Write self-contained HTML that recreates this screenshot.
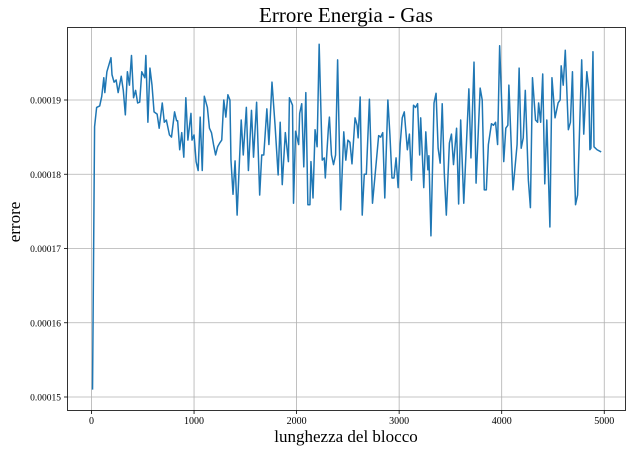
<!DOCTYPE html>
<html><head><meta charset="utf-8"><style>
body{margin:0;background:#fff;}
svg{display:block;font-family:"Liberation Serif",serif;}
</style></head><body>
<svg id="chart" width="631" height="451" viewBox="0 0 631 451" xmlns="http://www.w3.org/2000/svg">
<text x="346" y="22" font-size="21" text-anchor="middle">Errore Energia - Gas</text>
<text x="346" y="442" font-size="17" text-anchor="middle">lunghezza del blocco</text>
<text x="0" y="0" font-size="17" text-anchor="middle" transform="translate(20,222) rotate(-90)">errore</text>
<g id="grid"></g><g id="ticks"></g><g id="series"></g>
<rect x="67.5" y="27.5" width="558" height="383" fill="none" stroke="#000" stroke-width="0.8"/>
</svg>
<script>
const blockLen=[10,30,50,80,100,120,130,150,190,200,220,240,260,290,310,330,350,370,390,410,430,450,470,490,520,530,550,570,590,610,640,660,690,710,730,760,780,810,830,840,860,880,900,920,940,970,980,1000,1020,1040,1060,1080,1100,1130,1150,1170,1190,1210,1230,1250,1270,1290,1310,1330,1350,1360,1380,1400,1420,1460,1480,1510,1530,1560,1580,1610,1640,1660,1680,1710,1730,1760,1790,1820,1840,1860,1890,1920,1930,1960,1970,1990,2020,2030,2050,2070,2090,2110,2130,2140,2160,2180,2200,2220,2250,2270,2280,2310,2320,2340,2360,2380,2400,2430,2460,2480,2500,2520,2540,2570,2590,2600,2620,2640,2660,2680,2710,2740,2770,2800,2820,2840,2860,2890,2910,2930,2950,2970,2990,3010,3030,3050,3080,3100,3120,3140,3160,3180,3200,3210,3240,3260,3280,3290,3310,3340,3360,3380,3400,3420,3440,3460,3490,3510,3530,3560,3580,3600,3630,3680,3700,3730,3750,3790,3810,3830,3850,3870,3900,3920,3940,3960,3980,4020,4040,4060,4070,4110,4150,4170,4190,4210,4230,4260,4280,4300,4330,4350,4360,4380,4400,4420,4440,4470,4490,4520,4550,4570,4580,4600,4620,4650,4670,4690,4710,4720,4740,4780,4800,4830,4850,4860,4870,4890,4900,4930,4970];
const errore1e5=[15.1,18.64,18.9,18.92,19.05,19.3,19.1,19.38,19.57,19.34,19.24,19.27,19.1,19.32,19.13,18.8,19.38,19.2,19.6,19.03,19.13,18.96,18.97,19.38,19.3,19.6,18.7,19.43,19.2,18.84,18.81,18.62,18.96,18.7,18.73,18.53,18.5,18.84,18.72,18.72,18.33,18.56,18.23,19.03,18.46,18.82,18.46,18.53,18.17,18.05,18.77,18.05,19.05,18.9,18.62,18.56,18.4,18.26,18.37,18.42,18.46,19.0,18.77,19.07,19.0,18.19,17.73,18.18,17.45,18.73,18.26,18.9,18.05,18.86,18.23,18.97,17.72,18.26,18.26,18.88,18.4,19.24,18.66,17.99,18.7,17.86,18.56,18.17,19.03,18.93,17.61,18.58,18.4,18.82,18.95,18.1,19.1,17.59,17.59,18.17,17.68,18.6,18.37,19.75,18.19,18.22,17.95,18.62,18.77,18.26,18.13,18.26,19.54,17.52,18.57,18.19,18.46,18.43,18.14,18.76,18.66,18.49,19.04,17.45,18.0,18.0,19.01,17.61,18.06,18.52,18.5,18.56,17.68,19.0,18.53,17.95,17.95,18.22,17.82,18.4,18.76,18.84,18.33,18.54,17.92,18.93,18.9,18.95,18.26,18.76,17.82,18.57,18.06,18.25,17.17,18.96,19.09,18.35,18.15,18.95,18.02,17.45,18.42,18.54,18.13,18.62,17.6,18.73,17.61,19.15,18.22,19.51,17.88,19.16,19.0,17.79,17.79,18.4,18.68,18.66,18.7,18.4,19.73,18.17,18.62,18.66,19.2,17.79,18.4,19.43,18.35,18.49,19.13,17.92,17.55,19.3,18.73,18.7,18.96,18.7,19.35,17.87,18.73,17.29,19.3,18.76,18.96,19.0,19.46,19.2,19.67,18.6,18.7,19.38,18.03,17.59,17.72,19.54,18.54,19.38,19.13,18.33,18.35,19.65,18.37,18.33,18.3];
const xTicks=[0,1000,2000,3000,4000,5000];
const yTicks=[15,16,17,18,19];
const yTickLabels=["0.00015","0.00016","0.00017","0.00018","0.00019"];

const NS="http://www.w3.org/2000/svg";
const xS=v=>91.5+v*0.10255;
const yS=v=>397-(v-15)*74.25;
const grid=document.getElementById('grid'),ticks=document.getElementById('ticks'),series=document.getElementById('series');
function mk(tag,attrs,parent){const e=document.createElementNS(NS,tag);for(const k in attrs)e.setAttribute(k,attrs[k]);parent.appendChild(e);return e;}
xTicks.forEach(t=>{
  const x=xS(t);
  const g=mk('line',{x1:x,x2:x,y1:27.5,y2:410.5,stroke:'#b0b0b0','stroke-width':0.8},grid);
  
  
  const tk=mk('line',{x1:x,x2:x,y1:410.5,y2:414,stroke:'#000','stroke-width':0.8},ticks);
  
  
  const lb=mk('text',{x:x,y:424,'font-size':10,'text-anchor':'middle'},ticks);
  lb.textContent=t;
  
  
});
yTicks.forEach((t,i)=>{
  const y=yS(t);
  const g=mk('line',{x1:67.5,x2:625.5,y1:y,y2:y,stroke:'#b0b0b0','stroke-width':0.8},grid);
  
  
  const tk=mk('line',{x1:64,x2:67.5,y1:y,y2:y,stroke:'#000','stroke-width':0.8},ticks);
  
  
  const lb=mk('text',{x:61,y:y+3.5,'font-size':9.5,'text-anchor':'end'},ticks);
  lb.textContent=yTickLabels[i];
  
  
});
const n=Math.min(blockLen.length,errore1e5.length);
let d='';
for(let i=0;i<n;i++){d+=(i?'L':'M')+xS(blockLen[i]).toFixed(2)+' '+yS(errore1e5[i]).toFixed(2);}
const p=mk('path',{d:d,fill:'none',stroke:'#1f77b4','stroke-width':1.5,'stroke-linejoin':'round'},series);


</script>
</body></html>
